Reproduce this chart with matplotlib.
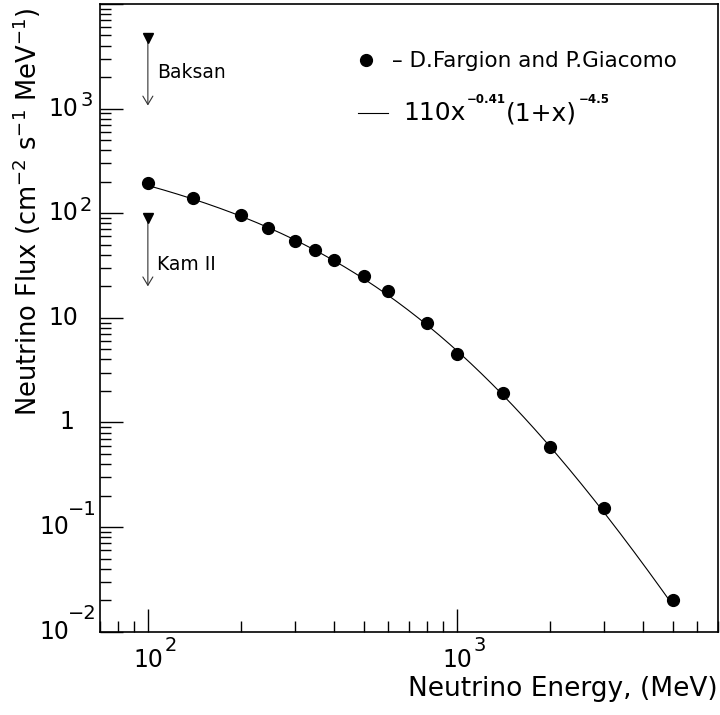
import numpy as np
import matplotlib
matplotlib.use("Agg")
import matplotlib.pyplot as plt
from matplotlib.ticker import LogLocator, NullFormatter
from matplotlib.transforms import IdentityTransform

plt.rcParams['font.family'] = ['DejaVu Sans']

# calculated neutrino spectrum (Fargion & Giacomo)
energy = [100, 140, 200, 245, 300, 347, 400, 500, 600, 800, 1000, 1415, 2000, 3000, 5000]
flux = [196, 141, 95.5, 72, 54, 45, 35.5, 25, 18.1, 8.9, 4.5, 1.92, 0.58, 0.151, 0.0201]

# fit: 110 x^-0.41 (1+x)^-4.5 with x = E / 1 GeV
fit_norm = 110.0
fit_a = -0.41
fit_b = -4.5
fit_scale = 1000.0

# experimental upper limits at 100 MeV
limit_names = ["Baksan", "Kam II"]
limit_energy = [100, 100]
limit_top = [4700, 91]
limit_bottom = [1070, 20]

W, H = 720, 715
fig = plt.figure(figsize=(W / 100, H / 100), dpi=100)
ax = fig.add_axes([100 / W, 1 - 631.7 / H, 618 / W, 627.7 / H])
ax.set_xscale('log')
ax.set_yscale('log')
ax.set_xlim(70, 7000)
ax.set_ylim(1e-2, 1e4)

e_fit = np.logspace(np.log10(energy[0]), np.log10(energy[-1]), 300)
xr = e_fit / fit_scale
ax.plot(e_fit, fit_norm * xr ** fit_a * (1 + xr) ** fit_b, color='black', lw=0.8)
ax.plot(energy, flux, 'o', color='black', ms=8.5, zorder=3)

for name, e, top, bot in zip(limit_names, limit_energy, limit_top, limit_bottom):
    ax.annotate('', xy=(e, bot), xytext=(e, top),
                arrowprops=dict(arrowstyle='->,head_length=0.5,head_width=0.3',
                                lw=0.8, color='#333333', shrinkA=0, shrinkB=0,
                                mutation_scale=12))
    ax.plot([e], [top], 'v', color='black', ms=7.5, zorder=3)

for sp in ax.spines.values():
    sp.set_linewidth(1.2)

ax.xaxis.set_major_locator(LogLocator(base=10, numticks=20))
ax.yaxis.set_major_locator(LogLocator(base=10, numticks=20))
ax.xaxis.set_minor_locator(LogLocator(base=10, subs=np.arange(2, 10), numticks=100))
ax.yaxis.set_minor_locator(LogLocator(base=10, subs=np.arange(2, 10), numticks=100))
for a in (ax.xaxis, ax.yaxis):
    a.set_major_formatter(NullFormatter())
    a.set_minor_formatter(NullFormatter())
ax.tick_params(which='both', direction='in', top=False, right=False, width=1)
ax.tick_params(which='major', length=16.5)
ax.tick_params(which='minor', length=8)

tick_fs = 17
sup_fs = 14

# y tick labels: base "10" plus exponent
ytick_vals = [1e-2, 1e-1, 1, 10, 1e2, 1e3]
ytick_exp = ["\u22122", "\u22121", None, None, "2", "3"]
for v, ex in zip(ytick_vals, ytick_exp):
    kw = dict(xycoords=('axes fraction', 'data'), textcoords='offset pixels',
              va='center', fontsize=tick_fs)
    if ex is None:
        txt = "1" if v == 1 else "10"
        off = -26 if v == 1 else -22
        ax.annotate(txt, xy=(0, v), xytext=(off, 0), ha='right', **kw)
    elif ex.startswith("\u2212"):
        ax.annotate("10", xy=(0, v), xytext=(-31, 0), ha='right', **kw)
        kw['fontsize'] = sup_fs
        ax.annotate(ex, xy=(0, v), xytext=(-3, 18), ha='right', **kw)
    else:
        ax.annotate("10", xy=(0, v), xytext=(-22, 0), ha='right', **kw)
        kw['fontsize'] = sup_fs
        ax.annotate(ex, xy=(0, v), xytext=(-20, 8), ha='left', **kw)

# x tick labels
xtick_vals = [1e2, 1e3]
xtick_exp = ["2", "3"]
for v, ex in zip(xtick_vals, xtick_exp):
    kw = dict(xycoords=('data', 'axes fraction'), textcoords='offset pixels', va='center')
    ax.annotate("10", xy=(v, 0), xytext=(1, -28), ha='center', fontsize=tick_fs, **kw)
    ax.annotate(ex, xy=(v, 0), xytext=(17, -14), ha='left', fontsize=sup_fs, **kw)

ax.set_xlabel("Neutrino Energy, (MeV)", fontsize=19, loc='right')
ax.xaxis.set_label_coords(1.0, -0.071)
ax.set_ylabel(r"Neutrino Flux (cm$^{-2}$ s$^{-1}$ MeV$^{-1}$)", fontsize=18.5, loc='top')
ax.yaxis.set_label_coords(-0.092, 0.995)

# upper-limit labels
ax.text(157, 715 - 78, "Baksan", transform=IdentityTransform(), fontsize=13.5)
ax.text(157, 715 - 270, "Kam II", transform=IdentityTransform(), fontsize=13.5)

# legend drawn by hand
ax.plot([366], [715 - 60], 'o', color='black', ms=8.5, transform=IdentityTransform(),
        clip_on=False)
ax.text(392, 715 - 67, "\u2013 D.Fargion and P.Giacomo", transform=IdentityTransform(),
        fontsize=15.5)
ax.plot([358, 388], [715 - 113, 715 - 113], color='black', lw=0.8,
        transform=IdentityTransform(), clip_on=False)

renderer = fig.canvas.get_renderer()
pieces = [("110x", 18, 'normal', 0), ("\u22120.41", 8.5, 'bold', 17),
          ("(1+x)", 18, 'normal', 0), ("\u22124.5", 8.5, 'bold', 17)]
xpos = 403
for s, fs, fw, dy in pieces:
    t = ax.text(xpos, 715 - 120 + dy, s, transform=IdentityTransform(),
                fontsize=fs, fontweight=fw)
    xpos = t.get_window_extent(renderer).x1 + 1

fig.savefig("out.png", dpi=100)
